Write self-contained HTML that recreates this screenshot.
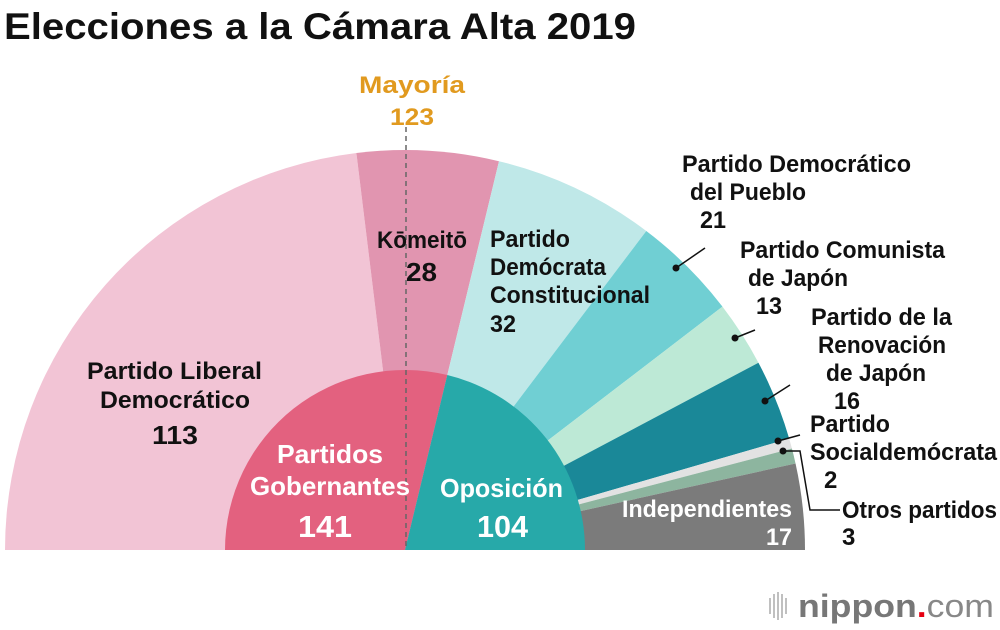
<!DOCTYPE html>
<html><head><meta charset="utf-8"><style>
body{margin:0;background:#fff;}
svg{display:block;}
text{font-family:"Liberation Sans",sans-serif;font-weight:bold;}
</style></head><body>
<svg id="chart" width="1000" height="630" viewBox="0 0 1000 630">
<text x="4" y="39" font-size="37" fill="#111" textLength="632" lengthAdjust="spacingAndGlyphs">Elecciones a la Cámara Alta 2019</text>
<g id="outer"></g>
<g id="inner"></g>
<line x1="406" y1="127" x2="406" y2="550" stroke="#666" stroke-width="1.5" stroke-dasharray="5,4"/>
<g font-size="24" fill="#e19a1f">
<text x="359" y="93" textLength="106" lengthAdjust="spacingAndGlyphs">Mayoría</text>
<text x="390" y="125" textLength="44" lengthAdjust="spacingAndGlyphs">123</text></g>
<g font-size="24" fill="#111">
<g><text x="87" y="379" textLength="175" lengthAdjust="spacingAndGlyphs">Partido Liberal</text><text x="100" y="408" textLength="150" lengthAdjust="spacingAndGlyphs">Democrático</text><text x="152" y="444" font-size="26" textLength="46" lengthAdjust="spacingAndGlyphs">113</text></g>
<g><text x="377" y="248" textLength="90" lengthAdjust="spacingAndGlyphs">Kōmeitō</text><text x="406" y="281" font-size="26" textLength="31" lengthAdjust="spacingAndGlyphs">28</text></g>
<g><text x="490" y="247" textLength="80" lengthAdjust="spacingAndGlyphs">Partido</text><text x="490" y="275" textLength="116" lengthAdjust="spacingAndGlyphs">Demócrata</text><text x="490" y="303" textLength="160" lengthAdjust="spacingAndGlyphs">Constitucional</text><text x="490" y="332" textLength="26" lengthAdjust="spacingAndGlyphs">32</text></g>
<g><text x="682" y="172" textLength="229" lengthAdjust="spacingAndGlyphs">Partido Democrático</text><text x="690" y="200" textLength="116" lengthAdjust="spacingAndGlyphs">del Pueblo</text><text x="700" y="228" textLength="26" lengthAdjust="spacingAndGlyphs">21</text></g>
<g><text x="740" y="258" textLength="205" lengthAdjust="spacingAndGlyphs">Partido Comunista</text><text x="748" y="286" textLength="100" lengthAdjust="spacingAndGlyphs">de Japón</text><text x="756" y="314" textLength="26" lengthAdjust="spacingAndGlyphs">13</text></g>
<g><text x="811" y="325" textLength="141" lengthAdjust="spacingAndGlyphs">Partido de la</text><text x="818" y="353" textLength="128" lengthAdjust="spacingAndGlyphs">Renovación</text><text x="826" y="381" textLength="100" lengthAdjust="spacingAndGlyphs">de Japón</text><text x="834" y="409" textLength="26" lengthAdjust="spacingAndGlyphs">16</text></g>
<g><text x="810" y="432" textLength="80" lengthAdjust="spacingAndGlyphs">Partido</text><text x="810" y="460" textLength="187" lengthAdjust="spacingAndGlyphs">Socialdemócrata</text><text x="824" y="488">2</text></g>
<g><text x="842" y="518" textLength="155" lengthAdjust="spacingAndGlyphs">Otros partidos</text><text x="842" y="545">3</text></g>
<g fill="#fff"><text x="622" y="517" textLength="170" lengthAdjust="spacingAndGlyphs">Independientes</text><text x="766" y="545" textLength="26" lengthAdjust="spacingAndGlyphs">17</text></g>
<g fill="#fff"><text x="277" y="463" font-size="26" textLength="106" lengthAdjust="spacingAndGlyphs">Partidos</text><text x="250" y="495" font-size="26" textLength="160" lengthAdjust="spacingAndGlyphs">Gobernantes</text><text x="298" y="537" font-size="31" textLength="54" lengthAdjust="spacingAndGlyphs">141</text></g>
<g fill="#fff"><text x="440" y="497" font-size="26" textLength="123" lengthAdjust="spacingAndGlyphs">Oposición</text><text x="477" y="537" font-size="31" textLength="51" lengthAdjust="spacingAndGlyphs">104</text></g>
</g>
<g stroke="#111" stroke-width="1.5" fill="none">
<path d="M676 268 L705 248"/><path d="M735 338 L755 330"/><path d="M765 401 L790 385"/><path d="M778 441 L800 435"/><path d="M783 451 L800 451 L810 510 L840 510"/></g>
<g fill="#111"><circle cx="676" cy="268" r="3.5"/><circle cx="735" cy="338" r="3.5"/><circle cx="765" cy="401" r="3.5"/><circle cx="778" cy="441" r="3.5"/><circle cx="783" cy="451" r="3.5"/></g>
<g>
<g stroke="#aaa" stroke-width="1.5"><line x1="770" y1="598" x2="770" y2="614"/><line x1="774" y1="594" x2="774" y2="618"/><line x1="778" y1="592" x2="778" y2="620"/><line x1="782" y1="594" x2="782" y2="618"/><line x1="786" y1="598" x2="786" y2="614"/></g>
<text x="798" y="617" font-size="32" fill="#777" textLength="196" lengthAdjust="spacingAndGlyphs">nippon<tspan fill="#e60012">.</tspan><tspan font-weight="normal" fill="#888">com</tspan></text></g>
</svg>
<script>
const parties=["Partido Liberal Democrático","Kōmeitō","Partido Demócrata Constitucional","Partido Democrático del Pueblo","Partido Comunista de Japón","Partido de la Renovación de Japón","Partido Socialdemócrata","Otros partidos","Independientes"];
const seats=[113,28,32,21,13,16,2,3,17];
const partyColors=["#f2c4d5","#e195b0","#bfe8e8","#70cfd3","#bde9d6","#1a8898","#e2e2e2","#8db59f","#7b7b7b"];
const blocs=["Partidos Gobernantes","Oposición"];
const blocSeats=[141,104];
const blocColors=["#e3617f","#27a9a9"];
const CX=405,CY=550,RO=400,RI=180;
function pt(r,frac){const t=frac*Math.PI;return [CX-r*Math.cos(t),CY-r*Math.sin(t)];}
function drawRing(gid,vals,cols,r,nm){
 const total=vals.reduce((a,b)=>a+b,0);let cum=0;const g=document.getElementById(gid);
 vals.forEach((v,i)=>{const a=cum/total,b=(cum+v)/total;cum+=v;
  const p0=pt(r,a),p1=pt(r,b);
  const path=document.createElementNS("http://www.w3.org/2000/svg","path");
  path.setAttribute("d",`M${CX} ${CY} L${p0[0]} ${p0[1]} A${r} ${r} 0 0 1 ${p1[0]} ${p1[1]} Z`);
  path.setAttribute("fill",cols[i]);
  
  
  g.appendChild(path);});
}
drawRing("outer",seats,partyColors,RO,"party-segment");
drawRing("inner",blocSeats,blocColors,RI,"bloc-segment");
</script>
</body></html>
